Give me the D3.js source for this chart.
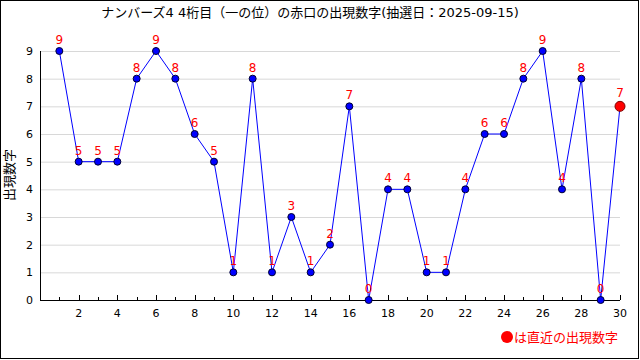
<!DOCTYPE html>
<html><head><meta charset="utf-8">
<script src="https://cdn.jsdelivr.net/npm/d3@7"></script>
<style>body{margin:0;background:#fff}svg{display:block}text{font-family:"DejaVu Sans","Noto Sans CJK JP",sans-serif}</style>
</head><body><svg id="c" width="640" height="360"></svg>
<script>
const title = "ナンバーズ4 4桁目（一の位）の赤口の出現数字(抽選日：2025-09-15)";
const draws = d3.range(1, 31);
const values = [9,5,5,5,8,9,8,6,5,1,8,1,3,1,2,7,0,4,4,1,1,4,6,6,8,9,4,8,0,7];
const yTicks = [0,1,2,3,4,5,6,7,8,9];
const xLabelTicks = [2,4,6,8,10,12,14,16,18,20,22,24,26,28,30];

const svg = d3.select("#c");
svg.append("rect").attr("x",0.5).attr("y",0.5).attr("width",638).attr("height",358)
  .attr("fill","#fff").attr("stroke","#000");

const x = d3.scaleLinear().domain([0,30]).range([40,620]);
const y = d3.scaleLinear().domain([0,9]).range([300,51]);

svg.append("g").selectAll("line").data(yTicks.filter(d=>d>0)).join("line")
  .attr("x1",40).attr("x2",620).attr("y1",d=>y(d)+0.5).attr("y2",d=>y(d)+0.5)
  .attr("stroke","#d8d8d8");

svg.append("line").attr("x1",40.5).attr("x2",40.5).attr("y1",y(9)).attr("y2",300).attr("stroke","#000");
svg.append("g").selectAll("text").data(yTicks).join("text")
  .attr("x",33).attr("y",d=>y(d)+4).attr("text-anchor","end")
  .attr("font-size",11).attr("fill","#000").text(d=>d);

svg.append("line").attr("x1",40).attr("x2",620).attr("y1",300.5).attr("y2",300.5).attr("stroke","#000");
svg.append("g").selectAll("line").data(d3.range(1,31)).join("line")
  .attr("x1",d=>Math.round(x(d))+0.5).attr("x2",d=>Math.round(x(d))+0.5)
  .attr("y1",300).attr("y2",d=>d%2===0?295:297).attr("stroke","#000");
svg.append("g").selectAll("text").data(xLabelTicks).join("text")
  .attr("x",d=>x(d)).attr("y",317).attr("text-anchor","middle")
  .attr("font-size",11).attr("fill","#000").text(d=>d);

svg.append("text").attr("x",310).attr("y",17).attr("text-anchor","middle")
  .attr("font-family","'DejaVu Sans Mono','Noto Sans CJK JP',monospace")
  .attr("font-size",13).attr("fill","#000").text(title);

svg.append("text").attr("transform","translate(14,175) rotate(-90)")
  .attr("text-anchor","middle").attr("font-size",13).attr("fill","#000").text("出現数字");

svg.append("path").datum(values)
  .attr("d", d3.line().x((d,i)=>x(draws[i])).y(d=>y(d)))
  .attr("fill","none").attr("stroke","#0000ff").attr("stroke-width",1);

svg.append("g").selectAll("circle").data(values).join("circle")
  .attr("cx",(d,i)=>x(draws[i])).attr("cy",d=>y(d))
  .attr("r",(d,i)=>i===values.length-1?5:3.5)
  .attr("fill",(d,i)=>i===values.length-1?"#ff0000":"#0000ff")
  .attr("stroke",(d,i)=>i===values.length-1?"#800000":"#000033").attr("stroke-width",1);

svg.append("g").selectAll("text").data(values).join("text")
  .attr("x",(d,i)=>x(draws[i])).attr("y",(d,i)=>y(d)-(i===values.length-1?9:7))
  .attr("text-anchor","middle").attr("font-size",12).attr("fill","#ff0000").text(d=>d);

const lg = svg.append("g");
lg.append("circle").attr("cx",507).attr("cy",337).attr("r",6).attr("fill","#ff0000");
lg.append("text").attr("x",514).attr("y",342).attr("font-size",13).attr("fill","#ff0000").text("は直近の出現数字");
</script></body></html>
